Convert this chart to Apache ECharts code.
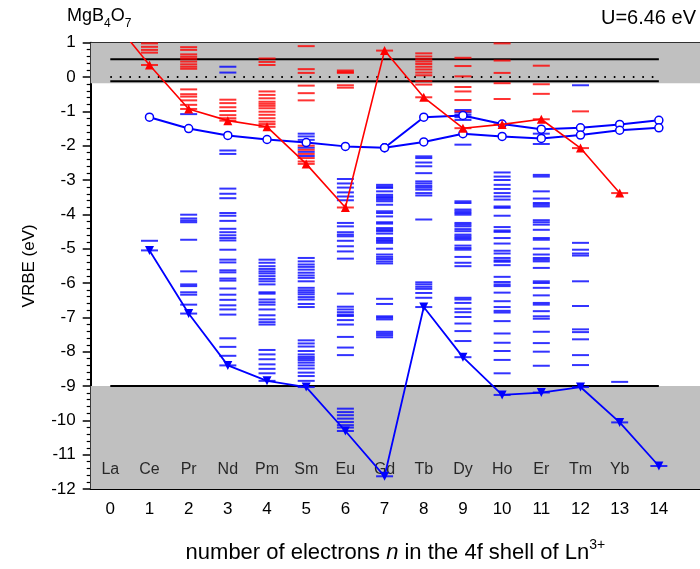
<!DOCTYPE html>
<html>
<head>
<meta charset="utf-8">
<script src="https://cdn.jsdelivr.net/npm/echarts@6/dist/echarts.min.js"></script>
<style>
  html, body { margin: 0; padding: 0; background: #fff; }
  #chart { width: 700px; height: 569px; }
</style>
</head>
<body>
<div id="chart"></div>
<script>
// Number of 4f electrons n in Ln3+ and the lanthanide symbols along the axis
const electronTicks = [0, 1, 2, 3, 4, 5, 6, 7, 8, 9, 10, 11, 12, 13, 14];
const elements = ['La', 'Ce', 'Pr', 'Nd', 'Pm', 'Sm', 'Eu', 'Gd', 'Tb', 'Dy', 'Ho', 'Er', 'Tm', 'Yb'];
const elementLabelLevel = -11.43;

// Ground state VRBE of the divalent ions (eV), index = n
const ln2Ground = [1.75, 0.35, -0.93, -1.27, -1.45, -2.53, -3.80, 0.77, -0.59, -1.49, -1.38, -1.23, -2.07, -3.38, null];
// Ground state VRBE of the trivalent ions (eV)
const ln3Ground = [null, -5.05, -6.89, -8.40, -8.85, -9.03, -10.31, -11.63, -6.70, -8.16, -9.26, -9.19, -9.03, -10.06, -11.33];
// Lowest 5d state of the trivalent ions: high spin and low spin branches
const d5High = [null, -1.17, -1.50, -1.70, -1.82, -1.91, -2.02, -2.06, -1.17, -1.12, -1.37, -1.52, -1.48, -1.38, -1.26];
const d5Low = [null, null, null, null, null, null, null, -2.06, -1.89, -1.65, -1.73, -1.79, -1.69, -1.55, -1.48];

// Excited 4f levels of the divalent ions (eV)
const ln2Levels = [
  [],
  [0.98, 0.88, 0.79, 0.71],
  [0.87, 0.79, 0.66, 0.59, 0.53, 0.45, 0.37, 0.30, 0.24, -0.36, -0.50, -0.57, -0.68, -0.81],
  [-0.66, -0.76, -0.88, -0.99, -1.11, -1.20],
  [0.54, 0.44, 0.35, -0.42, -0.52, -0.62, -0.72, -0.78, -0.84, -0.91, -1.01, -1.10, -1.20, -1.30, -1.37],
  [0.90, 0.23, 0.12, -0.25, -0.47, -0.68, -2.00, -2.12, -2.24, -2.36, -2.46],
  [0.19, 0.15, 0.12, -0.24, -0.31],
  [],
  [0.69, 0.60, 0.52, 0.45, 0.38, 0.30, 0.22, 0.13, 0.05, -0.12, -0.22],
  [0.56, 0.32, 0.02, -0.29, -0.42, -0.67, -1.00],
  [0.98, 0.48, 0.12, -0.18, -0.64],
  [0.33, -0.21, -0.49],
  [-1.00],
  [],
  []
];

// Excited 4f levels of the trivalent ions (eV)
const ln3Levels = [
  [],
  [-4.77],
  [-1.08, -4.01, -4.12, -4.18, -4.23, -4.74, -5.66, -6.04, -6.09, -6.27, -6.34, -6.63],
  [0.30, 0.13, -2.14, -2.24, -3.25, -3.40, -3.53, -3.96, -4.04, -4.19, -4.42, -4.52, -4.61, -4.69, -4.76,
   -5.03, -5.32, -5.40, -5.63, -5.69, -5.87, -5.93, -6.16, -6.34, -6.49, -6.65, -6.77, -6.92, -7.61, -7.86, -8.12],
  [-5.32, -5.41, -5.51, -5.59, -5.66, -5.72, -5.80, -5.88, -5.95, -6.04, -6.27, -6.31, -6.48, -6.56, -6.63,
   -6.77, -6.94, -7.06, -7.14, -7.21, -7.95, -8.08, -8.22, -8.37, -8.50, -8.63],
  [-1.65, -1.73, -1.83, -2.06, -2.18, -2.30, -5.27, -5.37, -5.46, -5.53, -5.61, -5.70, -5.78, -5.85, -5.95,
   -6.14, -6.21, -6.27, -6.33, -6.41, -6.48, -6.61, -6.70, -7.67, -7.76, -7.85, -7.98, -8.08, -8.15, -8.20,
   -8.25, -8.32, -8.40, -8.49, -8.61, -8.71, -8.85],
  [-2.97, -3.10, -3.22, -3.36, -3.48, -3.59, -4.25, -4.35, -4.52, -4.59, -4.64, -4.77, -4.93, -5.08, -5.29,
   -6.31, -6.69, -6.77, -6.85, -6.92, -6.96, -7.08, -7.21, -7.57, -7.88, -8.10, -9.66, -9.76, -9.85, -9.95,
   -10.05, -10.14, -10.21],
  [-3.14, -3.19, -3.23, -3.33, -3.43, -3.48, -3.52, -3.57, -3.62, -3.72, -3.91, -3.96, -4.06, -4.23, -4.27,
   -4.40, -4.45, -4.49, -4.56, -4.69, -4.74, -4.78, -4.83, -5.00, -5.17, -5.24, -5.30, -5.37, -5.43, -6.46,
   -6.61, -6.97, -7.01, -7.06, -7.42, -7.47, -7.52, -7.58],
  [-2.31, -2.36, -2.49, -2.60, -2.80, -3.04, -3.10, -3.17, -3.22, -3.28, -3.38, -3.45, -4.15, -5.98, -6.04,
   -6.11, -6.17, -6.29, -6.43],
  [-0.96, -1.03, -1.10, -1.17, -1.25, -1.97, -3.62, -3.67, -3.86, -3.91, -3.96, -4.01, -4.25, -4.30, -4.35,
   -4.43, -4.49, -4.59, -4.64, -4.69, -4.74, -4.91, -4.98, -5.03, -5.24, -5.41, -5.51, -6.43, -6.48, -6.58,
   -6.75, -6.85, -6.99, -7.18, -7.40, -7.69],
  [-2.78, -2.90, -3.00, -3.14, -3.26, -3.38, -3.48, -3.57, -3.77, -3.81, -4.04, -4.37, -4.47, -4.51, -4.69,
   -4.85, -5.06, -5.14, -5.27, -5.34, -5.38, -5.48, -5.82, -5.97, -6.04, -6.09, -6.28, -6.53, -6.70, -6.81,
   -6.86, -7.11, -7.47, -7.74, -7.98, -8.24, -8.63],
  [-1.65, -1.95, -2.85, -2.90, -3.33, -3.54, -3.67, -3.72, -3.77, -4.17, -4.23, -4.30, -4.45, -4.69, -4.74,
   -5.00, -5.17, -5.27, -5.32, -5.37, -5.56, -5.95, -6.00, -6.14, -6.36, -6.58, -6.63, -6.82, -6.97, -7.04,
   -7.42, -7.75, -8.00, -8.41],
  [-0.24, -4.83, -5.03, -5.14, -5.20, -5.95, -6.67, -7.35, -7.43, -7.64, -8.10, -8.39],
  [-8.88],
  []
];

// Band edges and reference levels (eV)
const bandLineSpan = [0, 14];
const conductionLines = [0.52, -0.12];
const conductionShade = [-0.18, 1];
const valenceTop = -9.0;
const valenceShade = [-12, -9.0];
const vacuumLevel = 0;

const X_MIN = -0.5, X_MAX = 15.05, Y_MIN = -12, Y_MAX = 1;
const FONT = '"Liberation Sans", Arial, sans-serif';

const toPairs = arr => arr.map((v, i) => [i, v]);
const dashPairs = (levels, ground) => {
  const out = [];
  levels.forEach((list, i) => list.forEach(v => out.push([i, v])));
  ground.forEach((v, i) => { if (v !== null && v >= Y_MIN && v <= Y_MAX) out.push([i, v]); });
  return out;
};
const hLine = (value, dotted) => ({
  type: 'line', silent: true, symbol: 'none', z: 3, animation: false,
  data: bandLineSpan.map(x => [x, value]),
  lineStyle: { color: '#000', width: 2, type: dotted ? [1.6, 7.9] : 'solid' }
});

const chart = echarts.init(document.getElementById('chart'), null, { renderer: 'canvas' });

const txt = (size, extra) => Object.assign({ fontSize: size, color: '#000', fontFamily: FONT, fontWeight: 'normal' }, extra || {});

const option = {
  animation: false,
  backgroundColor: '#fff',
  textStyle: { fontFamily: FONT },
  title: [
    {
      text: '{m|MgB}{s|4}{m|O}{s|7}',
      left: 67, top: 7, padding: 0,
      textStyle: {
        rich: {
          m: txt(18, { lineHeight: 23, verticalAlign: 'top' }),
          s: txt(12, { lineHeight: 12, verticalAlign: 'bottom' })
        }
      }
    },
    {
      text: 'U=6.46 eV',
      right: 4, top: 8, padding: 0,
      textStyle: txt(20)
    }
  ],
  grid: { left: 90.7, right: 0, top: 42.7, bottom: 78.3, containLabel: false },
  xAxis: [
    {
      type: 'value', min: X_MIN, max: X_MAX,
      splitLine: { show: false },
      axisLine: { show: true, onZero: false, lineStyle: { color: '#000', width: 2 } },
      axisTick: { show: true, inside: true, length: 8, customValues: electronTicks, lineStyle: { color: '#000', width: 1.5 } },
      axisLabel: { show: true, customValues: electronTicks, margin: 12, fontSize: 17, color: '#000', fontFamily: FONT },
      name: '{t|number of electrons }{i|n}{t| in the 4f shell of Ln}{sup|3+}',
      nameLocation: 'middle', nameGap: 49,
      nameTextStyle: {
        fontSize: 22, color: '#000', fontFamily: FONT,
        rich: {
          t: txt(22, { lineHeight: 26, verticalAlign: 'bottom' }),
          i: txt(22, { lineHeight: 26, verticalAlign: 'bottom', fontStyle: 'italic' }),
          sup: txt(14, { lineHeight: 14, verticalAlign: 'top' })
        }
      }
    },
    {
      type: 'value', position: 'top', min: X_MIN, max: X_MAX,
      splitLine: { show: false },
      axisLine: { show: true, onZero: false, lineStyle: { color: '#000', width: 2 } },
      axisTick: { show: false }, axisLabel: { show: false }
    }
  ],
  yAxis: {
    type: 'value', min: Y_MIN, max: Y_MAX, interval: 1,
    splitLine: { show: false },
    axisLine: { show: true, onZero: false, lineStyle: { color: '#000', width: 2 } },
    axisTick: { show: true, inside: false, length: 8, lineStyle: { color: '#000', width: 1.5 } },
    minorTick: { show: true, splitNumber: 5, length: 4, lineStyle: { color: '#000', width: 1.2 } },
    axisLabel: { margin: 15, fontSize: 17, color: '#000', fontFamily: FONT },
    name: 'VRBE (eV)', nameLocation: 'middle', nameGap: 53,
    nameTextStyle: { fontSize: 17, color: '#000', fontFamily: FONT }
  },
  series: [
    // shaded band regions
    {
      type: 'line', silent: true, symbol: 'none', data: [], z: 1,
      markArea: {
        silent: true,
        itemStyle: { color: '#c0c0c0', opacity: 1 },
        data: [
          [{ xAxis: X_MIN, yAxis: conductionShade[0] }, { xAxis: X_MAX, yAxis: conductionShade[1] }],
          [{ xAxis: X_MIN, yAxis: valenceShade[0] }, { xAxis: X_MAX, yAxis: valenceShade[1] }]
        ]
      }
    },
    hLine(conductionLines[0], false),
    hLine(conductionLines[1], false),
    hLine(vacuumLevel, true),
    hLine(valenceTop, false),
    // 4f level ladders
    {
      type: 'scatter', silent: true, z: 4,
      symbol: 'rect', symbolSize: [17, 2],
      itemStyle: { color: '#0000ff' },
      data: dashPairs(ln3Levels, ln3Ground)
    },
    {
      type: 'scatter', silent: true, z: 4,
      symbol: 'rect', symbolSize: [17, 2],
      itemStyle: { color: '#ff0000' },
      data: dashPairs(ln2Levels, ln2Ground)
    },
    // element names
    {
      type: 'scatter', silent: true, z: 5, symbolSize: 0,
      data: elements.map((el, i) => ({ value: [i, elementLabelLevel], name: el })),
      label: { show: true, position: 'inside', formatter: '{b}', fontSize: 16, color: '#000', fontFamily: FONT }
    },
    // 5d levels
    {
      type: 'line', z: 6, data: toPairs(d5High),
      symbol: 'circle', symbolSize: 8,
      itemStyle: { color: '#fff', borderColor: '#0000ff', borderWidth: 1.5 },
      lineStyle: { color: '#0000ff', width: 2 }
    },
    {
      type: 'line', z: 6, data: toPairs(d5Low),
      symbol: 'circle', symbolSize: 8,
      itemStyle: { color: '#fff', borderColor: '#0000ff', borderWidth: 1.5 },
      lineStyle: { color: '#0000ff', width: 2 }
    },
    // ground states
    {
      type: 'line', z: 7, data: toPairs(ln3Ground), clip: true,
      symbol: 'triangle', symbolRotate: 180, symbolSize: 9,
      itemStyle: { color: '#0000ff' },
      lineStyle: { color: '#0000ff', width: 1.8 }
    },
    {
      type: 'line', z: 7, data: toPairs(ln2Ground), clip: true,
      symbol: 'triangle', symbolSize: 9,
      itemStyle: { color: '#ff0000' },
      lineStyle: { color: '#ff0000', width: 1.6 }
    }
  ]
};

chart.setOption(option);
</script>
</body>
</html>
